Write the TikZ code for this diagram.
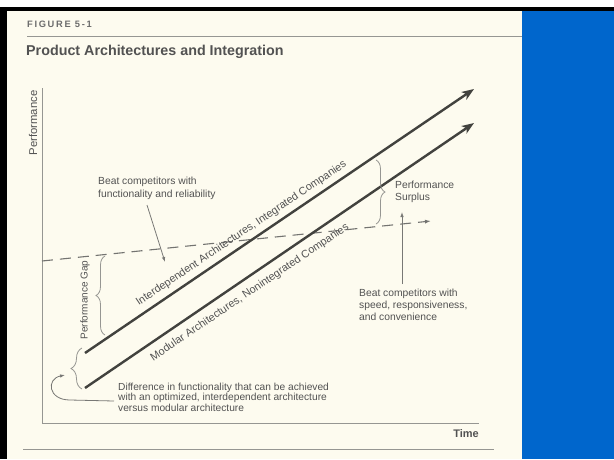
\documentclass[tikz,border=0pt]{standalone}
\usepackage{fontspec}
\setmainfont{Liberation Sans}
\usetikzlibrary{arrows.meta,decorations.pathreplacing}
\definecolor{cream}{RGB}{253,251,239}
\definecolor{slideblue}{RGB}{0,102,204}
\definecolor{txt}{RGB}{82,82,82}
\definecolor{ln}{RGB}{66,66,62}
\definecolor{axisgray}{RGB}{150,150,146}
\definecolor{dashgray}{RGB}{115,115,112}
\tikzset{
  lbl/.style={text=txt, inner sep=0pt, font=\fontsize{10.3}{12.5}\selectfont, align=left},
  rulebar/.style={draw=axisgray, line width=0.9pt},
  axisline/.style={draw=axisgray, line width=0.8pt},
  mainline/.style={draw=ln, line width=2.4pt, -{Stealth[length=12pt,width=9pt,inset=3pt]}},
  dashline/.style={draw=dashgray, line width=1.1pt, dash pattern=on 11pt off 7pt, -{Latex[length=6pt,width=4pt]}},
  thinarrow/.style={draw=axisgray!80!black, line width=0.8pt, -{Latex[length=5pt,width=3.5pt]}},
  bracestyle/.style={draw=axisgray, line width=0.8pt, decorate, decoration={brace, amplitude=#1}},
}
\begin{document}
\begin{tikzpicture}[x=1pt,y=-1pt]
\useasboundingbox (0,0) rectangle (614,459);
\fill[white] (0,0) rectangle (614,459);
\fill[black] (0,7) rectangle (614,11);
\fill[black] (0,7) rectangle (7,459);
\fill[cream] (7,11) rectangle (522,459);
\fill[slideblue] (522,11) rectangle (614,459);

% header
\node[lbl, anchor=west, text=txt!85, font=\fontsize{9.3}{11}\selectfont\bfseries\addfontfeature{LetterSpace=18}] (fig) at (27,24) {FIGURE 5-1};
\coordinate (r0) at (27,36);
\coordinate (r1) at (522,36);
\draw[rulebar] (r0) -- (r1);
\node[lbl, anchor=west, font=\fontsize{14.3}{16}\selectfont\bfseries] (title) at (26,52) {Product Architectures and Integration};

% axes
\coordinate (ytop) at (42,88);
\coordinate (orig) at (42,423);
\coordinate (xend) at (479,423);
\draw[axisline] (ytop) -- (orig) -- (xend);
\node[lbl, rotate=90, font=\fontsize{11.3}{13}\selectfont] (ylab) at (33,123) {Performance};
\node[lbl, anchor=east, font=\fontsize{11}{13}\selectfont\bfseries] (xlab) at (479,434) {Time};
\coordinate (b0) at (23,449);
\coordinate (b1) at (494,449);
\draw[rulebar] (b0) -- (b1);

% dashed customer need line
\coordinate (d0) at (42,261);
\coordinate (d1) at (431,221);
\draw[dashline] (d0) -- (d1);

% main trajectories
\coordinate (i0) at (85,353);
\coordinate (i1) at (474,89);
\coordinate (m0) at (85,388);
\coordinate (m1) at (474,123);
\draw[mainline] (i0) -- (i1);
\draw[mainline] (m0) -- (m1);
\node[lbl, rotate=34, font=\fontsize{10.8}{13}\selectfont] (ilab) at (241.4,233.5) {Interdependent Architectures, Integrated Companies};
\node[lbl, rotate=34, font=\fontsize{10.8}{13}\selectfont] (mlab) at (249.8,292.6) {Modular Architectures, Nonintegrated Companies};

% performance gap
\coordinate (g0) at (105,335);
\coordinate (g1) at (105,256);
\draw[bracestyle=9pt] (g0) -- (g1);
\node[lbl, rotate=90, font=\fontsize{10}{12}\selectfont] (gaplab) at (85,300) {Performance Gap};

% small brace
\coordinate (s0) at (82,389);
\coordinate (s1) at (82,348);
\draw[bracestyle=11pt] (s0) -- (s1);

% surplus
\coordinate (p0) at (376,160);
\coordinate (p1) at (376,224);
\draw[bracestyle=9pt] (p0) -- (p1);
\node[lbl, anchor=west] (surplus) at (395,192) {Performance\\Surplus};

% texts
\node[lbl, anchor=west, font=\fontsize{10.3}{13}\selectfont] (beat1) at (98,188.5) {Beat competitors with\\functionality and reliability};
\node[lbl, anchor=west, font=\fontsize{10.3}{12}\selectfont] (beat2) at (359,305) {Beat competitors with\\speed, responsiveness,\\and convenience};
\node[lbl, anchor=west, font=\fontsize{10.2}{10.5}\selectfont] (diff) at (118,397) {Difference in functionality that can be achieved\\with an optimized, interdependent architecture\\versus modular architecture};

% pointer arrows
\coordinate (a1s) at (147,205);
\coordinate (a1e) at (165,262);
\draw[thinarrow] (a1s) -- (a1e);
\coordinate (a2s) at (402,284);
\coordinate (a2e) at (402,212);
\draw[thinarrow] (a2s) -- (a2e);
\coordinate (c0) at (114,401);
\coordinate (c1) at (70,400);
\coordinate (c2) at (65,375);
\draw[thinarrow] (c0) -- (c1) .. controls (48,400) and (46,379) .. (c2);
\end{tikzpicture}
\end{document}
